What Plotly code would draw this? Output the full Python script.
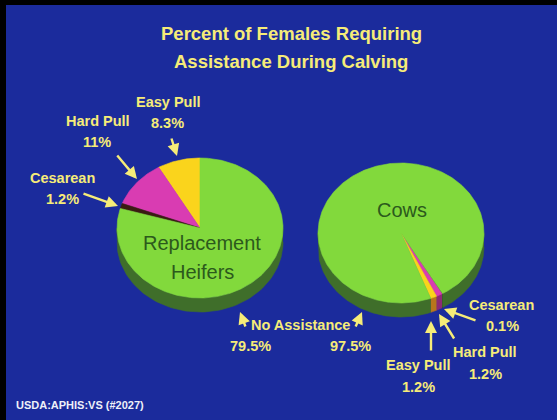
import numpy as np
import plotly.graph_objects as go

# ---------------- data ----------------
categories = ["No Assistance", "Easy Pull", "Hard Pull", "Cesarean"]
heifers_values = [79.5, 8.3, 11.0, 1.2]
cows_values = [97.5, 1.2, 1.2, 0.1]
pie_names = ["Replacement Heifers", "Cows"]

# ---------------- styles ----------------
W, H = 557, 420
BG = "#1b2b9c"
TXT = "#f6ec78"
top_colors = {"No Assistance": "#82d93c", "Easy Pull": "#fad41c",
              "Hard Pull": "#d93cb2", "Cesarean": "#3a1c12"}
side_colors = {"No Assistance": "#3f6e2a", "Easy Pull": "#b8761c",
               "Hard Pull": "#8c2a74", "Cesarean": "#2a1008"}

fig = go.Figure()


def slice_angles(values, order, start, direction):
    """Return list of (cat, a0, a1) in degrees clockwise from 12 o'clock."""
    out = []
    a = start
    for cat in order:
        v = values[categories.index(cat)]
        span = v / sum(values) * 360.0 * direction
        out.append((cat, a, a + span))
        a += span
    return out


def draw_pie(values, order, start, direction, cx, cy, rx, ry, depth):
    sl = slice_angles(values, order, start, direction)
    # sides (visible front half: 90..270 deg)
    for cat, a0, a1 in sl:
        lo, hi = min(a0, a1), max(a0, a1)
        for k in range(-1, 3):
            s0 = max(lo, 90 + 360 * k)
            s1 = min(hi, 270 + 360 * k)
            if s1 > s0:
                t = np.radians(np.linspace(s0, s1, 80))
                xt = cx + rx * np.sin(t)
                yt = cy - ry * np.cos(t)
                xs = np.concatenate([xt, xt[::-1]])
                ys = np.concatenate([yt, yt[::-1] + depth])
                fig.add_trace(go.Scatter(x=xs, y=ys, fill="toself", mode="lines",
                                         line=dict(width=0.6, color=side_colors[cat]),
                                         fillcolor=side_colors[cat], hoverinfo="skip",
                                         showlegend=False))
    # top faces
    for cat, a0, a1 in sl:
        n = max(4, int(abs(a1 - a0)) + 2)
        t = np.radians(np.linspace(a0, a1, n))
        xs = np.concatenate([[cx], cx + rx * np.sin(t), [cx]])
        ys = np.concatenate([[cy], cy - ry * np.cos(t), [cy]])
        fig.add_trace(go.Scatter(x=xs, y=ys, fill="toself", mode="lines",
                                 line=dict(width=0.6, color=top_colors[cat]),
                                 fillcolor=top_colors[cat], hoverinfo="skip",
                                 name=cat, showlegend=False))


# Replacement heifers: counter-clockwise from top
draw_pie(heifers_values, ["Easy Pull", "Hard Pull", "Cesarean", "No Assistance"],
         0, -1, 200, 228, 83, 70, 14)
# Cows: clockwise starting at ~5 o'clock
draw_pie(cows_values, ["Cesarean", "Hard Pull", "Easy Pull", "No Assistance"],
         150, 1, 401, 233, 83, 70, 14)

ann = []
FONT = "Liberation Sans, Arial, sans-serif"


def txt(x, y, s, size=14.5, color=TXT, bold=True):
    ann.append(dict(x=x, y=y, xref="x", yref="y", text=(f"<b>{s}</b>" if bold else s),
                    showarrow=False, font=dict(family=FONT, size=size, color=color),
                    xanchor="center", yanchor="middle"))


def arrow(x0, y0, x1, y1):
    ann.append(dict(x=x1, y=y1, ax=x0, ay=y0, xref="x", yref="y", axref="x", ayref="y",
                    text="", showarrow=True, arrowhead=2, arrowsize=1.0, arrowwidth=2.4,
                    arrowcolor=TXT, standoff=0, startstandoff=0))


def pct(v):
    return f"{v:g}%"


# title
txt(291, 33, "Percent of Females Requiring", size=18.5)
txt(291, 61, "Assistance During Calving", size=18.5)

# pie names
txt(202, 243, "Replacement", size=20, color="#2c5a1c", bold=False)
txt(202, 272, "Heifers", size=20, color="#2c5a1c", bold=False)
txt(402, 210, pie_names[1], size=20, color="#2c5a1c", bold=False)

# heifer labels
hv = dict(zip(categories, heifers_values))
cv = dict(zip(categories, cows_values))
txt(168, 102, "Easy Pull"); txt(167, 123, pct(hv["Easy Pull"]))
arrow(171, 137, 177, 156)
txt(98, 121, "Hard Pull"); txt(97, 142, pct(hv["Hard Pull"]))
arrow(116, 154, 137, 179)
txt(62, 178, "Cesarean"); txt(62, 199, pct(hv["Cesarean"]))
arrow(82, 193, 118, 206)

# no assistance
txt(300, 325, "No Assistance")
txt(250, 346, pct(hv["No Assistance"]))
txt(350, 346, pct(cv["No Assistance"]))
arrow(246, 328, 240, 312)
arrow(355, 328, 362, 312)

# cows labels
txt(501, 305, "Cesarean"); txt(502, 326, pct(cv["Cesarean"]))
arrow(477, 321, 444, 309)
txt(485, 352, "Hard Pull"); txt(485, 374, pct(cv["Hard Pull"]))
arrow(455, 340, 439, 314)
txt(418, 365, "Easy Pull"); txt(418, 387, pct(cv["Easy Pull"]))
arrow(431, 352, 431, 321)

# footer
ann.append(dict(x=14, y=405, xref="x", yref="y", text="<b>USDA:APHIS:VS (#2027)</b>",
                showarrow=False, xanchor="left", yanchor="middle",
                font=dict(family=FONT, size=11, color="#eef0f8")))

fig.update_layout(
    width=W, height=H, margin=dict(l=0, r=0, t=0, b=0),
    paper_bgcolor="black", plot_bgcolor="black",
    xaxis=dict(range=[0, W], visible=False, fixedrange=True),
    yaxis=dict(range=[H, 0], visible=False, fixedrange=True),
    shapes=[dict(type="rect", xref="x", yref="y", x0=6, x1=W, y0=5, y1=H,
                 fillcolor=BG, line=dict(width=0), layer="below")],
    annotations=ann,
)

fig.write_html("out.html")
